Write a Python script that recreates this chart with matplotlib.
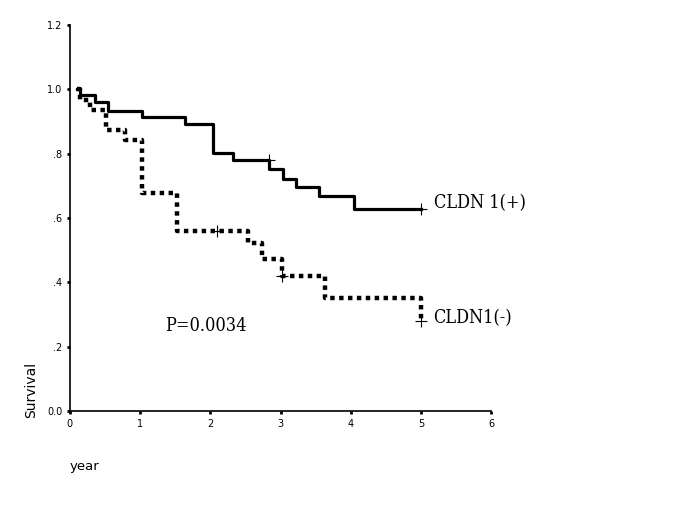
import numpy as np
import matplotlib.pyplot as plt

# Kaplan-Meier curves
pos_t = [0.1, 0.14, 0.36, 0.54, 1.03, 1.64, 2.04, 2.33, 2.84, 3.04, 3.22, 3.55, 4.05, 5.0]
pos_s = [1.0, 0.983, 0.96, 0.934, 0.913, 0.893, 0.803, 0.781, 0.753, 0.722, 0.696, 0.669, 0.627, 0.627]
pos_cens_t = [2.84, 5.0]
pos_cens_s = [0.781, 0.627]

neg_t = [0.1, 0.14, 0.285, 0.52, 0.78, 1.03, 1.53, 2.54, 2.74, 3.02, 3.63, 5.0]
neg_s = [1.0, 0.967, 0.936, 0.874, 0.843, 0.677, 0.56, 0.522, 0.474, 0.42, 0.35, 0.28]
neg_cens_t = [2.09, 3.02, 5.0]
neg_cens_s = [0.56, 0.42, 0.28]

yticks = [0.0, 0.2, 0.4, 0.6, 0.8, 1.0, 1.2]
ytick_labels = ["0.0", ".2", ".4", ".6", ".8", "1.0", "1.2"]
xticks = [0, 1, 2, 3, 4, 5, 6]

fig = plt.figure(figsize=(6.85, 5.13), dpi=100)
ax = fig.add_axes([0.102, 0.199, 0.615, 0.752])

ax.step(pos_t, pos_s, where="post", color="black", linewidth=2.3)
ax.step(neg_t, neg_s, where="post", color="black", linewidth=3.2,
        linestyle=(0, (1, 1)), dash_capstyle="butt")
ax.plot(pos_cens_t, pos_cens_s, "+", color="black", markersize=8, markeredgewidth=0.8)
ax.plot(neg_cens_t, neg_cens_s, "+", color="black", markersize=8, markeredgewidth=0.8)

ax.set_xlim(0, 6)
ax.set_ylim(0, 1.2)
ax.set_xticks(xticks)
ax.set_yticks(yticks)
ax.set_yticklabels(ytick_labels)
ax.tick_params(direction="out", length=2.5, width=2, labelsize=7, pad=3)
ax.spines["top"].set_visible(False)
ax.spines["right"].set_visible(False)
ax.spines["left"].set_linewidth(1.2)
ax.spines["bottom"].set_linewidth(1.2)

serif = dict(family="DejaVu Serif", stretch="condensed", fontsize=13)
ax.text(5.18, 0.645, "CLDN 1(+)", va="center", ha="left", **serif)
ax.text(5.18, 0.29, "CLDN1(-)", va="center", ha="left", **serif)
ax.text(1.35, 0.265, "P=0.0034", va="center", ha="left", **serif)

fig.text(0.045, 0.185, "Survival", rotation=90, ha="center", va="bottom", fontsize=10)
fig.text(0.102, 0.09, "year", ha="left", va="center", fontsize=9.5)

fig.savefig("out.png", dpi=100)
